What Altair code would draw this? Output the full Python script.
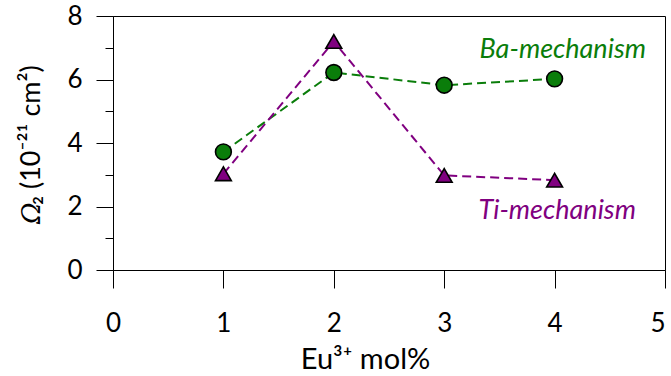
import altair as alt
import pandas as pd

# Eu3+ content (mol%) and the Judd-Ofelt Omega_2 parameter (1e-21 cm^2)
mol = [1, 2, 3, 4]
ba_mech = [3.72, 6.22, 5.82, 6.02]
ti_mech = [3.03, 7.20, 2.98, 2.83]

series_names = ["Ba-mechanism", "Ti-mechanism"]
series_colors = ["#0a7d0a", "#800080"]
series_shapes = ["circle", "triangle-up"]

# in-plot series labels (data coordinates)
label_x = [3.32, 3.31]
label_y = [6.93, 1.86]

y_major = [0, 2, 4, 6, 8]
y_minor = [1, 3, 5, 7]
x_ticks = [0, 1, 2, 3, 4, 5]

FONT = "Lato"
FS = 26

df = pd.DataFrame({
    "mol": mol + mol,
    "omega": ba_mech + ti_mech,
    "series": [series_names[0]] * len(mol) + [series_names[1]] * len(mol),
})
labels = pd.DataFrame({"x": label_x, "y": label_y, "series": series_names})

xscale = alt.Scale(domain=[0, 5], nice=False, zero=False)
yscale = alt.Scale(domain=[0, 8], nice=False, zero=False)
color = alt.Color("series:N", scale=alt.Scale(domain=series_names, range=series_colors), legend=None)

# the last x label is right-aligned so it stays inside the chart
x_axis = alt.Axis(values=x_ticks, tickSize=18, labelPadding=22, labelFontSize=FS, labelFont=FONT,
                  labelAlign=alt.ConditionalAxisLabelAlign(
                      condition={"test": "datum.value >= 5", "value": "right"}, value="center"),
                  labelColor="black", tickColor="black", domainColor="black", tickWidth=1,
                  grid=False, labelFlush=False, title="Eu³⁺ mol%", titleFont=FONT, titleFontSize=29,
                  titleFontWeight="normal", titleColor="black", titleBaseline="alphabetic",
                  titleX=252, titleY=98, titleAlign="center", format="d")
y_axis = alt.Axis(values=y_major, tickSize=17, labelPadding=14, labelFontSize=FS, labelFont=FONT,
                  labelColor="black", tickColor="black", domainColor="black", tickWidth=1,
                  grid=False, labelFlush=False, title=None, orient="left", format="d")
y_minor_axis = alt.Axis(values=y_minor, tickSize=8, labels=False, domain=False, tickColor="black",
                        tickWidth=1, grid=False, title=None, orient="left")

X = alt.X("mol:Q", scale=xscale, axis=x_axis)

lines = alt.Chart(df).mark_line(strokeDash=[9, 5], strokeWidth=2).encode(
    x=X,
    y=alt.Y("omega:Q", scale=yscale, axis=y_axis),
    color=color,
    detail="series:N",
)

points = alt.Chart(df).mark_point(filled=True, size=250, stroke="black", strokeWidth=1.6, opacity=1).encode(
    x=X,
    y=alt.Y("omega:Q", scale=yscale, axis=None),
    fill=alt.Fill("series:N", scale=alt.Scale(domain=series_names, range=series_colors), legend=None),
    shape=alt.Shape("series:N", scale=alt.Scale(domain=series_names, range=series_shapes), legend=None),
)

names = alt.Chart(labels).mark_text(font=FONT, fontSize=27, fontStyle="italic", align="left",
                                    baseline="middle").encode(
    x=alt.X("x:Q", scale=xscale, axis=x_axis),
    y=alt.Y("y:Q", scale=yscale, axis=y_minor_axis),
    text="series:N",
    color=color,
)

one = alt.Data(values=[{"k": 0}])
omega_sym = alt.Chart(one).mark_text(text="Ω", font="DejaVu Serif", fontSize=26, fontStyle="italic",
                                     angle=270, align="left", baseline="alphabetic", color="black").encode(
    x=alt.value(-73), y=alt.value(208))
omega_rest = alt.Chart(one).mark_text(text="₂ (10⁻²¹ cm²)", font=FONT, fontSize=27, angle=270,
                                      align="left", baseline="alphabetic", color="black").encode(
    x=alt.value(-73), y=alt.value(189))

chart = alt.layer(lines, points, names, omega_sym, omega_rest).resolve_axis(
    y="independent"
).properties(
    width=552, height=254,
    background="white",
    autosize=alt.AutoSizeParams(type="none"),
    padding={"left": 113, "top": 16, "right": 6, "bottom": 106},
).configure_view(stroke="black", strokeWidth=1)

chart.save("out.html", embed_options={"renderer": "svg", "actions": False})
